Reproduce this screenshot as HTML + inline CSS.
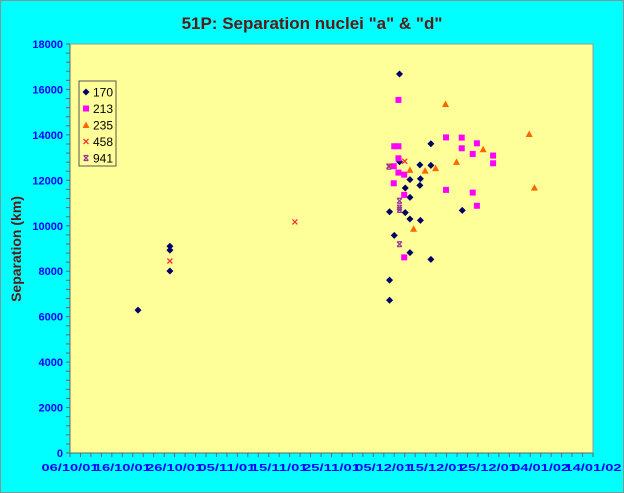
<!DOCTYPE html>
<html><head><meta charset="utf-8"><style>
body{margin:0;background:#00FFFF;}
svg{display:block;font-family:"Liberation Sans",Arial,sans-serif;}
</style></head><body>
<svg width="624" height="493" viewBox="0 0 624 493">
<rect x="0.5" y="0.5" width="623" height="492" fill="#00FFFF" stroke="#7a9a9a"/>
<text x="312" y="29" text-anchor="middle" font-size="17" font-weight="bold" fill="#5a1a1a">51P: Separation nuclei "a" &amp; "d"</text>
<rect x="70" y="44" width="523" height="409" fill="#FFFF99" stroke="#999"/>
<text transform="translate(21,249) rotate(-90)" text-anchor="middle" font-size="14" font-weight="bold" fill="#5a1a1a">Separation (km)</text>
<g id="axes"></g>
<g id="marks"></g>
<g>
<rect x="79" y="81" width="37" height="85" fill="#FFFF99" stroke="#555"/>
<g id="legend"></g>
</g>
</svg>
<script>
const xTickLabels=["06/10/01","16/10/01","26/10/01","05/11/01","15/11/01","25/11/01","05/12/01","15/12/01","25/12/01","04/01/02","14/01/02"];
const yTickLabels=[0,2000,4000,6000,8000,10000,12000,14000,16000,18000];
const seriesNames=["170","213","235","458","941"];
// days since 06/10/01
const s170Days=[13,19.1,19.1,19.1,63,69,63,66.9,69,65,67,64.1,66.9,65,61.1,75,64.1,65,67,62,65,69,61.1,61.1];
const s170Vals=[6290,9100,8930,8010,16680,13610,12820,12680,12660,12030,12070,11660,11780,11250,10620,10680,10580,10300,10240,9580,8820,8520,7610,6720];
const s213Days=[62.8,71.9,74.9,77.8,62,62.8,74.9,77,80.9,80.9,62.8,61.9,62.8,63.9,61.9,71.9,63.9,77,77.8,63.9];
const s213Vals=[15540,13890,13880,13630,13500,13500,13410,13160,13090,12750,12970,12620,12340,12250,11870,11580,11360,11460,10880,8610];
const s235Days=[71.8,87.8,79,73.9,69.9,67.9,65,88.8,65.7];
const s235Vals=[15360,14040,13370,12810,12540,12430,12460,11680,9870];
const s458Days=[19.1,43,61,64];
const s458Vals=[8450,10170,12630,12840];
const s941Days=[63,63,63,63,61];
const s941Vals=[11100,10800,10700,9190,12600];

const X0=70,X1=593,Y0=453,Y1=44,DMAX=100,VMAX=18000;
const xs=d=>X0+(X1-X0)*d/DMAX;
const ys=v=>Y0-(Y0-Y1)*v/VMAX;
const NS="http://www.w3.org/2000/svg";
function mk(tag,attrs,parent){const e=document.createElementNS(NS,tag);for(const k in attrs)e.setAttribute(k,attrs[k]);parent.appendChild(e);return e;}
const axes=document.getElementById('axes');
mk('line',{x1:X0,y1:Y0,x2:X1,y2:Y0,stroke:'#666'},axes);
mk('line',{x1:X0,y1:Y0,x2:X0,y2:Y1,stroke:'#666'},axes);
for(let v=0;v<=VMAX;v+=400){const y=ys(v);const t=mk('line',{x1:X0-4,y1:y,x2:X0,y2:y,stroke:'#666'},axes);}
yTickLabels.forEach(v=>{const t=mk('text',{x:X0-7,y:ys(v)+4,'text-anchor':'end','font-size':11,'font-weight':'bold',fill:'#0000FF'},axes);t.textContent=v;

});
for(let d=0;d<=DMAX;d+=2){const x=xs(d);const t=mk('line',{x1:x,y1:Y0,x2:x,y2:Y0+4,stroke:'#666'},axes);}
xTickLabels.forEach((l,i)=>{const t=mk('text',{x:xs(i*10),y:Y0+18,'text-anchor':'middle','font-size':10.5,'font-weight':'bold',fill:'#0000FF',textLength:57,lengthAdjust:'spacingAndGlyphs'},axes);t.textContent=l;

});

function marker(type,x,y,parent){
 let e;
 if(type==0)e=mk('polygon',{points:`${x},${y-3.5} ${x+3.5},${y} ${x},${y+3.5} ${x-3.5},${y}`,fill:'#000066'},parent);
 else if(type==1)e=mk('rect',{x:x-3,y:y-3,width:6,height:6,fill:'#FF00FF'},parent);
 else if(type==2)e=mk('polygon',{points:`${x},${y-3.5} ${x+3.5},${y+3} ${x-3.5},${y+3}`,fill:'#FF6600'},parent);
 else if(type==3){e=mk('path',{d:`M${x-2.5},${y-2.5}L${x+2.5},${y+2.5}M${x+2.5},${y-2.5}L${x-2.5},${y+2.5}`,stroke:'#FF3333','stroke-width':1.3},parent);}
 else {e=mk('path',{d:`M${x-2.5},${y-2.5}L${x+2.5},${y+2.5}M${x+2.5},${y-2.5}L${x-2.5},${y+2.5}M${x-2},${y-2.5}H${x+2}M${x-2},${y+2.5}H${x+2}`,stroke:'#993399','stroke-width':1.2},parent);}
 return e;
}
const marks=document.getElementById('marks');
const all=[[s170Days,s170Vals],[s213Days,s213Vals],[s235Days,s235Vals],[s458Days,s458Vals],[s941Days,s941Vals]];
all.forEach((s,i)=>{s[0].forEach((d,j)=>{const e=marker(i,xs(d),ys(s[1][j]),marks);

});});
const leg=document.getElementById('legend');
seriesNames.forEach((n,i)=>{const y=92+i*16.5;const e=marker(i,86,y,leg);


const t=mk('text',{x:93,y:y+4.5,'font-size':12,fill:'#000'},leg);t.textContent=n;

});
</script>
</body></html>
